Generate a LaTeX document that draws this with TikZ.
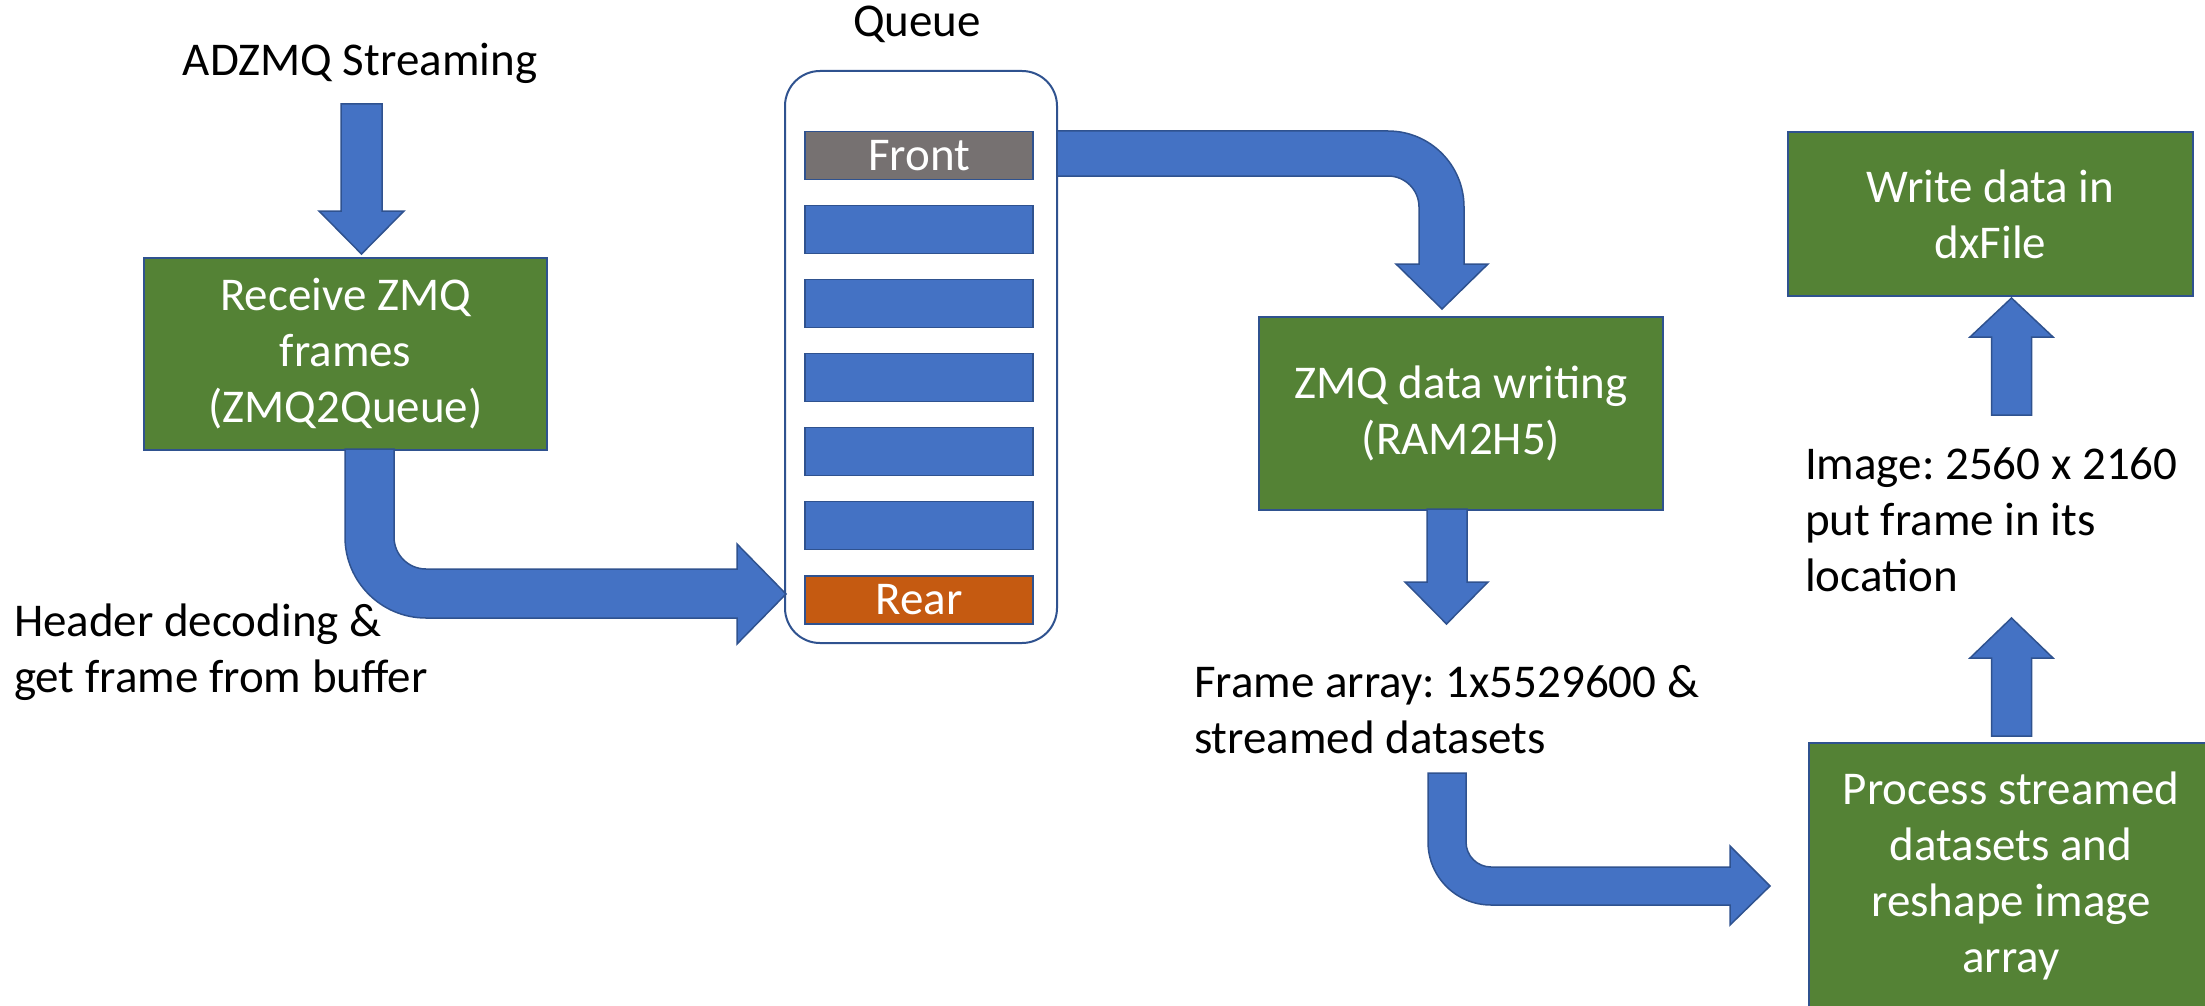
\documentclass[tikz,border=0pt]{standalone}
\usepackage{fontspec}
\setmainfont{Carlito}
\frenchspacing
\definecolor{arrowblue}{HTML}{4472C4}
\definecolor{edgeblue}{HTML}{2F528F}
\definecolor{boxgreen}{HTML}{548235}
\definecolor{frontgray}{HTML}{767171}
\definecolor{rearorange}{HTML}{C55A11}
\tikzset{
  txt/.style={font=\fontsize{47}{56}\selectfont\frenchspacing, inner sep=0pt, outer sep=0pt},
  greenbox/.style={txt, draw=edgeblue, line width=1.5pt, fill=boxgreen, text=white, align=center},
  queuebox/.style={draw=edgeblue, line width=2pt, fill=white, rounded corners=35pt, inner sep=0pt},
  qbar/.style={txt, draw=edgeblue, line width=1.5pt, fill=arrowblue, text=white, minimum width=228, minimum height=48},
  blockarrow/.style={draw=edgeblue, fill=arrowblue, line width=1.5pt, line join=miter},
}
\begin{document}
\begin{tikzpicture}[x=1pt,y=-1pt]
\useasboundingbox (0,0) rectangle (2205,1006);

% --- nodes ---
\node[txt, anchor=base] (title) at (360,76) {ADZMQ Streaming};
\node[greenbox, minimum width=403, minimum height=192] (recv) at (345.5,354) {Receive ZMQ\\frames\\(ZMQ2Queue)};

\node[queuebox, minimum width=272, minimum height=572] (queue) at (921,357) {};
\node[txt, anchor=base] (qlabel) at (917,37) {Queue};
\node[qbar, fill=frontgray] (front) at (919,155.5) {Front};
\node[qbar] (slot1) at (919,229.5) {};
\node[qbar] (slot2) at (919,303.5) {};
\node[qbar] (slot3) at (919,377.5) {};
\node[qbar] (slot4) at (919,451.5) {};
\node[qbar] (slot5) at (919,525.5) {};
\node[qbar, fill=rearorange] (rear) at (919,600) {Rear};

\node[greenbox, minimum width=404, minimum height=193] (zmq) at (1461,413.5) {ZMQ data writing\\(RAM2H5)};
\node[greenbox, minimum width=405, minimum height=164] (write) at (1990.5,214) {Write data in\\dxFile};
\node[greenbox, minimum width=404, minimum height=266] (proc) at (2011,876) {Process streamed\\datasets and\\reshape image\\array};

\node[txt, anchor=base west] (header) at (14,636)
  {\vtop{\hbox{Header decoding \&}\hbox{get frame from buffer}}};
\node[txt, anchor=base west] (frame) at (1194,697)
  {\vtop{\hbox{Frame array: 1x5529600 \&}\hbox{streamed datasets}}};
\node[txt, anchor=base west] (image) at (1805,479)
  {\vtop{\hbox{Image: 2560 x 2160}\hbox{put frame in its}\hbox{location}}};

% --- block arrows ---
% title -> recv
\draw[blockarrow] (341,104) -- (382,104) -- (382,211) -- (404,211) -- (361.5,254) -- (319,211) -- (341,211) -- cycle;
% recv -> rear
\draw[blockarrow] (345,449) -- (345,537) .. controls (345,581.7) and (381.3,618) .. (426,618)
  -- (737,618) -- (737,644) -- (786,594) -- (737,544) -- (737,569) -- (426,569)
  .. controls (408.3,569) and (394,554.7) .. (394,537) -- (394,449) -- cycle;
% front -> zmq
\draw[blockarrow] (1057,131) -- (1388,131) .. controls (1430,131) and (1464,165) .. (1464,207)
  -- (1464,264) -- (1488,264) -- (1442,309) -- (1396,264) -- (1419,264) -- (1419,207)
  .. controls (1419,189.9) and (1405.1,176) .. (1388,176) -- (1057,176) -- cycle;
% zmq -> frame text
\draw[blockarrow] (1427,509) -- (1467,509) -- (1467,582) -- (1488,582) -- (1446.5,624) -- (1405,582) -- (1427,582) -- cycle;
% frame text -> proc
\draw[blockarrow] (1428,773) -- (1428,842) .. controls (1428,876.8) and (1456.2,905) .. (1491,905)
  -- (1730,905) -- (1730,925) -- (1770,886) -- (1730,846) -- (1730,867) -- (1491,867)
  .. controls (1477.2,867) and (1466,855.8) .. (1466,842) -- (1466,773) -- cycle;
% proc -> image text
\draw[blockarrow] (1991.5,736) -- (2031.5,736) -- (2031.5,658) -- (2053,658) -- (2011.5,618) -- (1970,658) -- (1991.5,658) -- cycle;
% image text -> write
\draw[blockarrow] (1991.5,415) -- (2031.5,415) -- (2031.5,337) -- (2053,337) -- (2011.5,298) -- (1970,337) -- (1991.5,337) -- cycle;
\end{tikzpicture}
\end{document}
